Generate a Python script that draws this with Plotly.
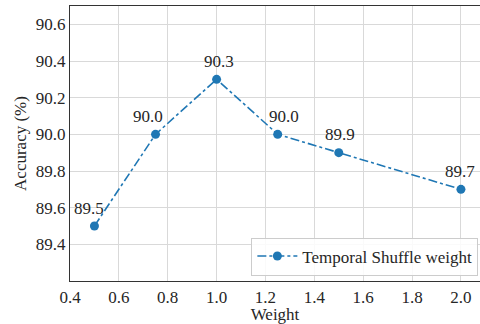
import plotly.graph_objects as go

weights = [0.5, 0.75, 1.0, 1.25, 1.5, 2.0]
accuracy = [89.5, 90.0, 90.3, 90.0, 89.9, 89.7]
labels = ["89.5", "90.0", "90.3", "90.0", "89.9", "89.7"]
label_xshift = [-5, -8, 2, 6, 1, -1]

x_ticks = [0.4, 0.6, 0.8, 1.0, 1.2, 1.4, 1.6, 1.8, 2.0]
y_ticks = [89.4, 89.6, 89.8, 90.0, 90.2, 90.4, 90.6]

FONT = "Liberation Serif, Times New Roman, serif"
COLOR = "#1f77b4"
TXT = "#262626"
F = dict(family=FONT, size=17, color=TXT)

fig = go.Figure()
fig.add_trace(go.Scatter(
    x=weights, y=accuracy, mode="lines+markers",
    name="Temporal Shuffle weight",
    line=dict(color=COLOR, width=1.6, dash="dashdot"),
    marker=dict(color=COLOR, size=9),
))

for xv, yv, t, dx in zip(weights, accuracy, labels, label_xshift):
    fig.add_annotation(x=xv, y=yv, text=t, showarrow=False,
                       xshift=dx, yshift=18, font=F)

fig.update_layout(
    width=480, height=324,
    margin=dict(l=70, r=0, t=6, b=43),
    paper_bgcolor="white", plot_bgcolor="white",
    font=F,
    showlegend=True,
    legend=dict(x=0.996, y=0.02, xanchor="right", yanchor="bottom",
                bgcolor="rgba(255,255,255,0.85)", bordercolor="#cccccc",
                borderwidth=1, font=F, itemwidth=40),
    xaxis=dict(range=[0.4, 2.078], tickvals=x_ticks,
               ticktext=[f"{v:.1f}" for v in x_ticks], tickfont=F,
               showgrid=True, gridcolor="#d9d9d9", gridwidth=1,
               showline=True, linecolor="#333333", linewidth=1.2, mirror=True,
               ticks="", zeroline=False,
               title=dict(text="Weight", standoff=2, font=F)),
    yaxis=dict(range=[89.2, 90.7], tickvals=y_ticks,
               ticktext=[f"{v:.1f}" for v in y_ticks], tickfont=F,
               showgrid=True, gridcolor="#d9d9d9", gridwidth=1,
               showline=True, linecolor="#333333", linewidth=1.2, mirror=False,
               ticks="", zeroline=False,
               title=dict(text="Accuracy (%)", standoff=4, font=F)),
)

fig.write_html("out.html", config={"displayModeBar": False},
               post_script="document.body.style.margin='0';document.body.style.padding='0';")
